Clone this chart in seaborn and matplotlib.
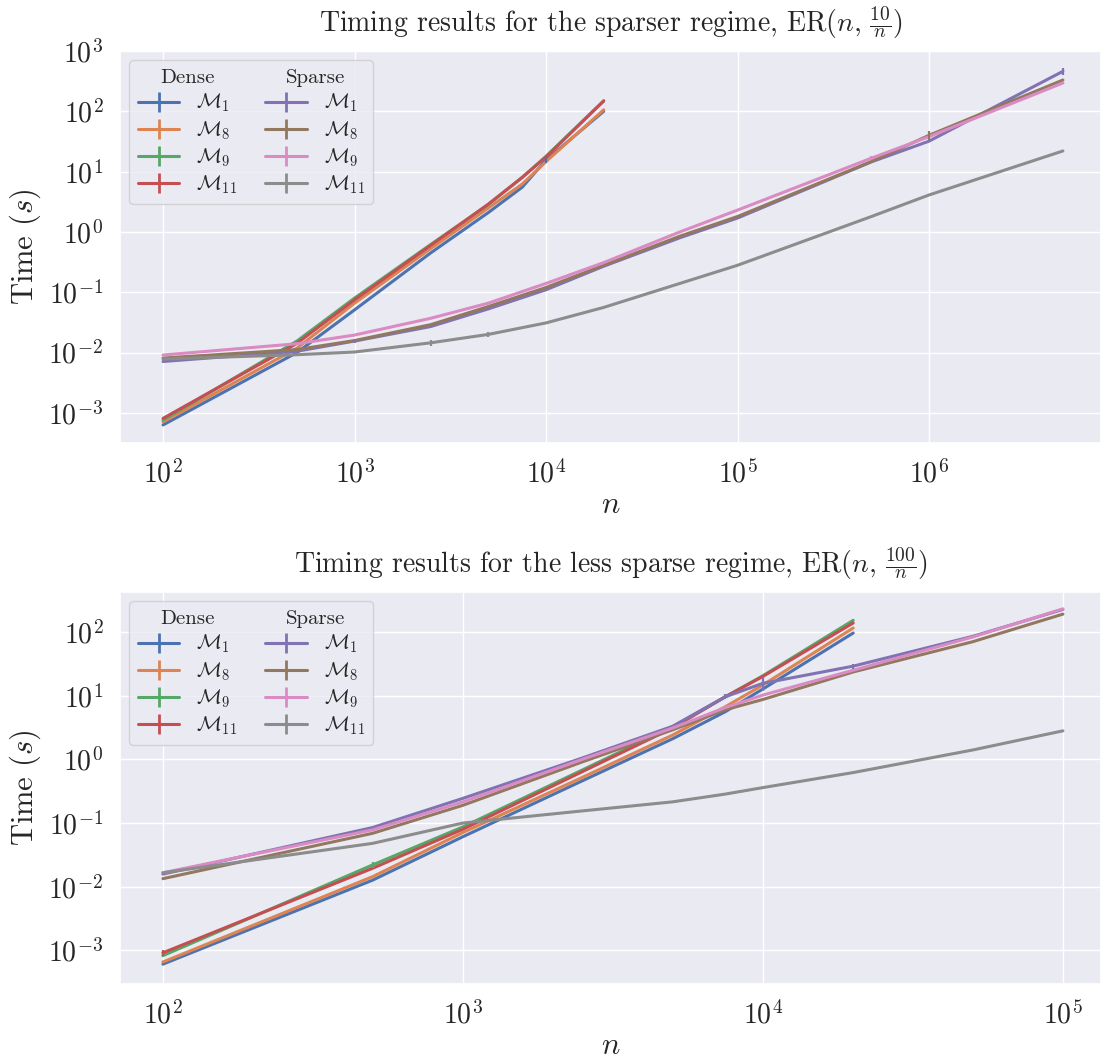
import numpy as np
import pandas as pd
import matplotlib
matplotlib.use("Agg")
import matplotlib.pyplot as plt
from matplotlib.lines import Line2D
import seaborn as sns

# ---------------------------------------------------------------------------
# Timing data (seconds) for ER(n, 10/n)
# ---------------------------------------------------------------------------
N_DENSE_SPARSER = [100, 500, 1000, 2500, 5000, 7500, 10000, 20000]
SPARSER_DENSE_M1 = [6.3e-4, 0.010, 0.051, 0.45, 2.1, 5.5, 15.6, 100]
SPARSER_DENSE_M8 = [7.1e-4, 0.0118, 0.066, 0.53, 2.5, 6.2, 14.7, 106]
SPARSER_DENSE_M9 = [7.6e-4, 0.0155, 0.080, 0.62, 2.85, 8.0, 18.0, 150]
SPARSER_DENSE_M11 = [8.1e-4, 0.0142, 0.075, 0.60, 2.9, 8.0, 17.5, 148]

N_SPARSE_SPARSER = [100, 500, 1000, 2500, 5000, 10000, 20000, 50000,
                    100000, 500000, 1000000, 5000000]
SPARSER_SPARSE_M1 = [0.0071, 0.0105, 0.0155, 0.027, 0.053, 0.11, 0.27, 0.80,
                     1.7, 14.5, 32, 460]
SPARSER_SPARSE_M8 = [0.0081, 0.0112, 0.0158, 0.029, 0.058, 0.12, 0.28, 0.85,
                     1.8, 14.7, 40, 330]
SPARSER_SPARSE_M9 = [0.0091, 0.0140, 0.0195, 0.037, 0.066, 0.14, 0.31, 1.0,
                     2.3, 16.7, 38, 295]
SPARSER_SPARSE_M11 = [0.0078, 0.0092, 0.0102, 0.0145, 0.020, 0.031, 0.056, 0.14,
                      0.28, 1.8, 4.1, 22]

# standard deviations (only the visible ones are non-zero)
SPARSER_DENSE_M1_ERR = [0, 0, 0, 0, 0, 0, 1.9, 0]
SPARSER_SPARSE_M1_ERR = [0, 0, 0.0009, 0, 0, 0, 0, 0, 0, 0, 0, 55]
SPARSER_SPARSE_M8_ERR = [0, 0, 0, 0, 0, 0, 0, 0, 0, 0, 6.5, 0]
SPARSER_SPARSE_M9_ERR = [0, 0, 0, 0, 0, 0, 0, 0, 0, 1.3, 0, 0]
SPARSER_SPARSE_M11_ERR = [0, 0, 0, 0.0015, 0.002, 0, 0, 0, 0, 0, 0, 0]

# ---------------------------------------------------------------------------
# Timing data (seconds) for ER(n, 100/n)
# ---------------------------------------------------------------------------
N_DENSE_LESS = [100, 500, 1000, 2500, 5000, 7500, 10000, 20000]
LESS_DENSE_M1 = [6.1e-4, 0.0127, 0.061, 0.46, 2.1, 5.6, 12.7, 96]
LESS_DENSE_M8 = [6.6e-4, 0.0144, 0.071, 0.52, 2.4, 6.7, 14.7, 115]
LESS_DENSE_M9 = [8.3e-4, 0.022, 0.087, 0.68, 3.25, 9.6, 20.5, 152]
LESS_DENSE_M11 = [9.2e-4, 0.0195, 0.080, 0.64, 3.1, 9.6, 20, 138]

N_SPARSE_LESS = [100, 500, 1000, 2500, 5000, 7500, 10000, 20000, 50000, 100000]
LESS_SPARSE_M1 = [0.0158, 0.085, 0.244, 1.05, 3.3, 9.6, 15.6, 29, 85, 225]
LESS_SPARSE_M8 = [0.0134, 0.069, 0.19, 0.91, 2.9, 6.0, 8.7, 23.5, 70, 190]
LESS_SPARSE_M9 = [0.0166, 0.078, 0.215, 1.0, 3.1, 6.5, 10.2, 25, 83, 230]
LESS_SPARSE_M11 = [0.0166, 0.048, 0.10, 0.155, 0.215, 0.285, 0.36, 0.62, 1.4, 2.8]

LESS_DENSE_M9_ERR = [0, 0.0024, 0, 0, 0, 0, 0, 0]
LESS_DENSE_M11_ERR = [0.0001, 0, 0, 0, 0, 0, 0, 0]
LESS_SPARSE_M1_ERR = [0, 0, 0, 0, 0, 0.9, 3.7, 2.7, 0, 0]

SERIES = ["Dense M1", "Dense M8", "Dense M9", "Dense M11",
          "Sparse M1", "Sparse M8", "Sparse M9", "Sparse M11"]
MODEL_LABELS = [r"$\mathcal{M}_1$", r"$\mathcal{M}_8$",
                r"$\mathcal{M}_9$", r"$\mathcal{M}_{11}$"]

sns.set_theme(style="darkgrid", palette="deep")
plt.rcParams.update({
    "font.family": "serif",
    "font.serif": ["cmr10", "DejaVu Serif"],
    "mathtext.fontset": "cm",
    "axes.formatter.use_mathtext": True,
    "axes.unicode_minus": True,
})
COLORS = sns.color_palette("deep", 8)


def long_frame(n_dense, dense, n_sparse, sparse):
    rows = []
    for name, ys in zip(SERIES[:4], dense):
        rows += [(n, y, name) for n, y in zip(n_dense, ys)]
    for name, ys in zip(SERIES[4:], sparse):
        rows += [(n, y, name) for n, y in zip(n_sparse, ys)]
    return pd.DataFrame(rows, columns=["n", "time", "series"])


def add_errbars(ax, xs, ys, errs, color):
    ax.errorbar(xs, ys, yerr=errs, fmt="none", ecolor=color,
                elinewidth=1.6, capsize=0, zorder=3)


def build_legend(ax):
    header = Line2D([], [], color="none")
    handles = [header]
    labels = ["Dense"]
    for i in range(4):
        handles.append(Line2D([], [], color=COLORS[i], lw=2.2, marker="|",
                              markersize=15, markeredgewidth=2.0))
        labels.append(MODEL_LABELS[i])
    handles.append(header)
    labels.append("Sparse")
    for i in range(4):
        handles.append(Line2D([], [], color=COLORS[4 + i], lw=2.2, marker="|",
                              markersize=15, markeredgewidth=2.0))
        labels.append(MODEL_LABELS[i])
    leg = ax.legend(handles, labels, ncol=2, loc="upper left", fontsize=15,
                    labelspacing=0.22, borderaxespad=0.45, columnspacing=1.35,
                    handlelength=2.0, handletextpad=0.8, frameon=True)
    return leg


def center_headers(fig, leg):
    # put each column header ("Dense" / "Sparse") centred above its entries
    fig.canvas.draw()
    renderer = fig.canvas.get_renderer()
    for col in leg._legend_handle_box.get_children():
        items = col.get_children()
        hdr = items[0]
        da, ta = hdr.get_children()
        col_w = max(it.get_window_extent(renderer).width for it in items[1:])
        txt_w = ta.get_window_extent(renderer).width
        da.width = 0
        hdr.sep = max((col_w - txt_w) / 2, 0) * 72.0 / fig.dpi


fig = plt.figure(figsize=(11.01, 10.59), dpi=100)
ax1 = fig.add_axes([0.10899, 0.58168, 0.89101, 0.37016])
ax2 = fig.add_axes([0.10899, 0.07082, 0.89101, 0.37016])

panels = [
    (ax1,
     (N_DENSE_SPARSER, [SPARSER_DENSE_M1, SPARSER_DENSE_M8, SPARSER_DENSE_M9, SPARSER_DENSE_M11]),
     (N_SPARSE_SPARSER, [SPARSER_SPARSE_M1, SPARSER_SPARSE_M8, SPARSER_SPARSE_M9, SPARSER_SPARSE_M11]),
     r"Timing results for the sparser regime, $\mathrm{ER}(n,\, \frac{10}{n})$",
     (10 ** 1.775, 10 ** 6.898), (10 ** -3.5, 10 ** 3.0)),
    (ax2,
     (N_DENSE_LESS, [LESS_DENSE_M1, LESS_DENSE_M8, LESS_DENSE_M9, LESS_DENSE_M11]),
     (N_SPARSE_LESS, [LESS_SPARSE_M1, LESS_SPARSE_M8, LESS_SPARSE_M9, LESS_SPARSE_M11]),
     r"Timing results for the less sparse regime, $\mathrm{ER}(n,\, \frac{100}{n})$",
     (10 ** 1.857, 10 ** 5.127), (10 ** -3.526, 10 ** 2.626)),
]

legends = []
for ax, (nd, dense), (ns, sparse), title, xlim, ylim in panels:
    df = long_frame(nd, dense, ns, sparse)
    sns.lineplot(data=df, x="n", y="time", hue="series", hue_order=SERIES,
                 palette=COLORS, linewidth=2.2, errorbar=None, legend=False,
                 ax=ax)
    ax.set(xscale="log", yscale="log", xlim=xlim, ylim=ylim)
    ax.set_title(title, fontsize=20, pad=14)
    ax.set_xlabel(r"$n$", fontsize=22, labelpad=2)
    ax.set_ylabel(r"Time ($s$)", fontsize=22, labelpad=4)
    ax.tick_params(axis="both", labelsize=20, pad=6)
    legends.append(build_legend(ax))

add_errbars(ax1, N_DENSE_SPARSER, SPARSER_DENSE_M1, SPARSER_DENSE_M1_ERR, COLORS[0])
add_errbars(ax1, N_SPARSE_SPARSER, SPARSER_SPARSE_M1, SPARSER_SPARSE_M1_ERR, COLORS[4])
add_errbars(ax1, N_SPARSE_SPARSER, SPARSER_SPARSE_M8, SPARSER_SPARSE_M8_ERR, COLORS[5])
add_errbars(ax1, N_SPARSE_SPARSER, SPARSER_SPARSE_M9, SPARSER_SPARSE_M9_ERR, COLORS[6])
add_errbars(ax1, N_SPARSE_SPARSER, SPARSER_SPARSE_M11, SPARSER_SPARSE_M11_ERR, COLORS[7])
add_errbars(ax2, N_DENSE_LESS, LESS_DENSE_M9, LESS_DENSE_M9_ERR, COLORS[2])
add_errbars(ax2, N_DENSE_LESS, LESS_DENSE_M11, LESS_DENSE_M11_ERR, COLORS[3])
add_errbars(ax2, N_SPARSE_LESS, LESS_SPARSE_M1, LESS_SPARSE_M1_ERR, COLORS[4])

for leg in legends:
    center_headers(fig, leg)

fig.savefig("out.png", dpi=100)
